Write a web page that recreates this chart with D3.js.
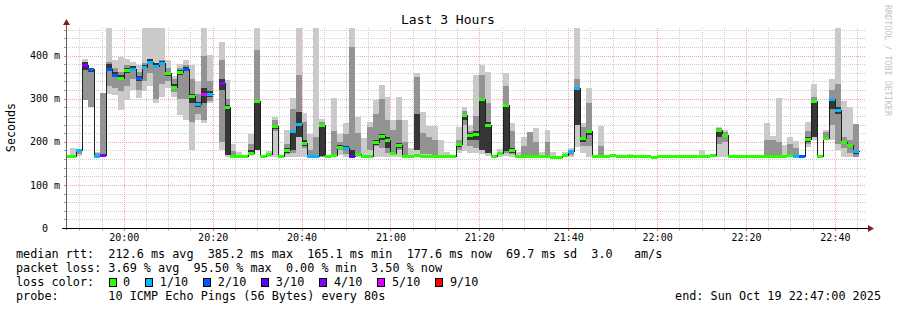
<!DOCTYPE html>
<html>
<head>
<meta charset="utf-8">
<script src="https://cdn.jsdelivr.net/npm/d3@7"></script>
<style>
  html, body { margin: 0; padding: 0; background: #fff; }
  svg { display: block; font-family: "DejaVu Sans Mono", monospace; }
  .pre { white-space: pre; }
</style>
</head>
<body>
<svg id="chart" width="897" height="310"></svg>
<script>
// one sample every 80 s, first bin starts 19:46:40 (values in ms)
const median = [
  167,167,181,379,370,167,169,370,355,349,
  366,369,347,374,386,376,382,359,328,362,
  370,306,287,311,311,null,337,281,167,167,
  167,175,294,167,172,236,167,181,225,241,
  198,167,167,238,167,169,189,186,167,172,
  167,167,199,213,204,175,192,167,167,169,
  167,167,167,167,167,167,195,262,216,219,
  300,239,167,175,285,181,167,167,167,167,
  167,167,165,165,169,179,324,208,225,167,
  167,168,170,168,167,167,167,167,167,165,
  167,167,167,167,167,167,167,167,167,170,
  227,216,167,167,167,167,167,167,167,167,
  167,167,170,167,168,206,295,167,209,300,
  274,199,192,178,null,null
];
const loss = [
  0,0,1,4,2,1,4,2,2,0,
  0,1,2,1,1,1,1,0,0,0,
  2,0,1,5,1,null,4,0,0,0,
  0,0,0,0,0,0,0,0,1,1,
  0,1,1,0,0,0,0,1,3,0,
  0,0,0,0,0,0,0,0,0,0,
  0,0,0,0,0,0,0,0,0,0,
  0,0,0,0,0,0,0,0,0,0,
  0,0,0,0,0,1,1,0,0,0,
  0,0,0,0,0,0,0,0,0,0,
  0,0,0,0,0,0,0,0,0,0,
  0,0,0,0,0,0,0,0,0,0,
  0,0,0,1,2,0,0,0,0,1,
  1,0,0,1,null,null
];
const rttMin = [
  165,165,167,297,281,165,165,311,308,273,
  297,320,302,318,330,290,305,324,305,262,
  250,181,250,243,289,null,181,165,165,165,
  165,167,181,165,165,165,165,165,165,165,
  165,165,165,165,165,165,170,165,165,165,
  165,165,165,165,165,165,165,165,165,165,
  165,165,165,165,165,165,175,178,175,175,
  172,167,165,165,168,165,165,165,165,165,
  165,165,163,163,165,165,188,175,165,165,
  165,165,165,165,165,165,165,165,165,163,
  165,165,165,165,165,165,165,165,165,165,
  165,165,165,165,165,165,165,165,165,165,
  165,165,165,165,165,189,205,165,204,204,
  181,165,165,165,null,null
];
const rttMax = [
  168,186,183,392,372,177,314,464,390,397,
  391,385,378,464,464,464,464,389,352,380,
  390,378,340,464,401,null,431,343,195,177,
  170,219,464,170,178,258,170,227,301,464,
  266,219,464,254,170,301,219,243,464,258,
  208,247,296,332,304,250,304,250,185,360,
  270,236,236,205,177,168,234,281,238,355,
  378,362,170,184,359,243,177,212,223,231,
  177,227,177,168,177,185,464,243,324,170,
  236,170,172,170,169,172,169,169,169,167,
  169,169,169,169,169,169,169,180,169,172,
  235,227,169,169,169,169,169,169,244,213,
  302,192,212,202,170,247,334,170,228,345,
  464,295,280,241,null,null
];
const midLo = [
  null,165,172,297,281,165,170,330,325,318,
  330,345,320,340,360,300,335,340,315,300,
  300,245,265,250,295,null,200,180,165,null,
  null,170,181,null,null,225,null,172,175,210,
  185,167,170,165,null,172,180,172,172,172,
  null,180,190,185,175,170,180,170,null,180,
  172,172,165,null,null,null,180,240,190,185,
  182,200,null,null,175,172,null,170,165,170,
  null,170,null,null,null,170,250,190,190,null,
  170,null,null,null,null,null,null,null,null,null,
  null,null,null,null,null,null,null,null,null,null,
  195,200,null,null,null,null,null,null,165,165,
  165,null,170,167,null,195,225,null,206,240,
  195,185,175,165,null,null
];
const midHi = [
  null,170,182,366,362,175,314,385,372,362,
  378,374,362,382,392,382,390,372,346,372,
  378,345,312,400,340,null,390,300,178,null,
  null,195,412,null,null,250,null,195,275,355,
  245,180,210,245,null,224,200,219,420,220,
  null,235,265,300,250,227,250,200,null,350,
  220,212,205,null,null,null,205,272,225,260,
  355,290,null,null,330,225,null,190,223,200,
  null,200,null,null,null,180,345,235,290,null,
  190,null,null,null,null,null,null,null,null,null,
  null,null,null,null,null,null,null,null,null,null,
  232,222,null,null,null,null,null,null,205,205,
  200,null,195,185,null,226,305,null,222,320,
  335,210,205,241,null,null
];
const coreLo = [
  null,null,null,366,362,165,165,365,350,343,
  360,365,342,370,382,372,378,352,322,355,
  364,290,280,290,305,null,320,170,null,null,
  null,170,181,null,null,230,null,175,180,210,
  190,null,null,167,null,null,184,180,165,null,
  null,null,192,205,185,null,185,null,null,180,
  null,null,null,null,null,null,188,250,205,205,
  182,175,null,null,178,175,null,null,null,null,
  null,null,null,null,null,null,240,200,215,null,
  null,null,null,null,null,null,null,null,null,null,
  null,null,null,null,null,null,null,null,null,null,
  212,null,null,null,null,null,null,null,null,null,
  null,null,null,null,null,200,210,null,null,275,
  265,195,188,172,null,null
];
const coreHi = [
  null,null,null,384,372,170,172,380,362,356,
  372,375,352,378,392,382,388,362,334,366,
  374,312,292,325,318,null,345,285,null,null,
  null,180,297,null,null,240,null,185,228,270,
  205,null,null,240,null,null,192,190,180,null,
  null,null,205,218,210,null,198,null,null,265,
  null,null,null,null,null,null,198,265,220,225,
  302,245,null,null,288,185,null,null,null,null,
  null,null,null,null,null,null,326,212,228,null,
  null,null,null,null,null,null,null,null,null,null,
  null,null,null,null,null,null,null,null,null,null,
  228,null,null,null,null,null,null,null,null,null,
  null,null,null,null,null,212,298,null,null,302,
  280,203,196,182,null,null
];

const yTicks = [0, 100, 200, 300, 400];
const yTickLabels = ["0  ", "100 m", "200 m", "300 m", "400 m"];
const lossLevels = [0, 1, 2, 3, 4, 5, 9];
const lossLabels = ["0", "1/10", "2/10", "3/10", "4/10", "5/10", "9/10"];
const lossColors = ["#26ff00", "#00b8ff", "#0059ff", "#5e00ff", "#7e00ff", "#dd00ff", "#ff0000"];

const statsLine = "median rtt:  212.6 ms avg  385.2 ms max  165.1 ms min  177.6 ms now  69.7 ms sd  3.0   am/s";
const lossLine = "packet loss: 3.69 % avg  95.50 % max  0.00 % min  3.50 % now";
const probeLine = "probe:       10 ICMP Echo Pings (56 Bytes) every 80s";
const endLine = "end: Sun Oct 19 22:47:00 2025";

const t0 = new Date(2025, 9, 19, 19, 47, 0);
const t1 = new Date(2025, 9, 19, 22, 47, 0);
const firstBin = new Date(2025, 9, 19, 19, 46, 40);
const stepMs = 80000;

const plotLeft = 66, plotRight = 866, plotTop = 28, plotBottom = 228;
const x = d3.scaleTime().domain([t0, t1]).range([plotLeft, plotRight]);
const y = d3.scaleLinear().domain([0, 464]).range([plotBottom, plotTop]);
const px = d => Math.round(x(d));

const svg = d3.select('#chart');

const bins = median.map((m, i) => ({
  i,
  t: new Date(+firstBin + i * stepMs),
  t2: new Date(+firstBin + (i + 1) * stepMs)
}));

// grid
const grid = svg.append('g');
const hMinor = d3.range(20, 464, 20).filter(v => v % 100 !== 0);
const hMajor = d3.range(100, 464, 100);
grid.selectAll('.hmin').data(hMinor).enter().append('line')
  .attr('x1', plotLeft).attr('x2', plotRight)
  .attr('y1', d => Math.round(y(d)) + 0.5).attr('y2', d => Math.round(y(d)) + 0.5)
  .attr('stroke', '#cdcdcd').attr('stroke-dasharray', '1,1');
const vMinor = x.ticks(d3.timeMinute.every(5)).filter(d => d.getMinutes() % 20 !== 0);
const vMajor = x.ticks(d3.timeMinute.every(20));
grid.selectAll('.vmin').data(vMinor).enter().append('line')
  .attr('x1', d => px(d) + 0.5).attr('x2', d => px(d) + 0.5)
  .attr('y1', plotTop).attr('y2', plotBottom)
  .attr('stroke', '#cdcdcd').attr('stroke-dasharray', '1,1');
grid.selectAll('.hmaj').data(hMajor).enter().append('line')
  .attr('x1', plotLeft).attr('x2', plotRight)
  .attr('y1', d => Math.round(y(d)) + 0.5).attr('y2', d => Math.round(y(d)) + 0.5)
  .attr('stroke', '#f2a8a8').attr('stroke-dasharray', '1,1');
grid.selectAll('.vmaj').data(vMajor).enter().append('line')
  .attr('x1', d => px(d) + 0.5).attr('x2', d => px(d) + 0.5)
  .attr('y1', plotTop).attr('y2', plotBottom)
  .attr('stroke', '#f2a8a8').attr('stroke-dasharray', '1,1');

// plot clip
svg.append('clipPath').attr('id', 'plot')
  .append('rect').attr('x', plotLeft + 1).attr('y', plotTop)
  .attr('width', plotRight - plotLeft).attr('height', plotBottom - plotTop);
const plot = svg.append('g').attr('clip-path', 'url(#plot)');

function band(lo, hi, color) {
  plot.append('g').attr('shape-rendering', 'crispEdges')
    .selectAll('rect').data(bins.filter(b => lo[b.i] != null && hi[b.i] != null)).enter().append('rect')
    .attr('x', b => px(b.t))
    .attr('width', b => px(b.t2) - px(b.t))
    .attr('y', b => Math.round(y(hi[b.i])))
    .attr('height', b => Math.max(1, Math.round(y(lo[b.i])) - Math.round(y(hi[b.i]))))
    .attr('fill', color);
}
band(rttMin, rttMax, '#cacaca');
band(midLo, midHi, '#939393');
band(coreLo, coreHi, '#363636');

// median step line
const medPts = [];
bins.forEach(b => {
  if (median[b.i] == null) { medPts.push(null); return; }
  const yy = Math.round(y(median[b.i])) + 0.5;
  medPts.push([px(b.t) + 0.5, yy], [px(b.t2) + 0.5, yy]);
});
plot.append('path')
  .attr('d', d3.line().defined(d => d != null).x(d => d[0]).y(d => d[1])(medPts))
  .attr('fill', 'none').attr('stroke', '#202020').attr('stroke-width', 1)
  .attr('shape-rendering', 'crispEdges');

// loss-coloured median marks
plot.append('g').attr('shape-rendering', 'crispEdges')
  .selectAll('line').data(bins.filter(b => median[b.i] != null)).enter().append('line')
  .attr('x1', b => px(b.t)).attr('x2', b => px(b.t2))
  .attr('y1', b => Math.round(y(median[b.i])) + 0.5)
  .attr('y2', b => Math.round(y(median[b.i])) + 0.5)
  .attr('stroke-width', 3)
  .attr('stroke', b => lossColors[lossLevels.indexOf(loss[b.i])]);

// axes
const yAxis = svg.append('g').attr('transform', `translate(${plotLeft},0)`)
  .call(d3.axisLeft(y).tickValues(yTicks).tickFormat((d, i) => yTickLabels[i]).tickSize(0).tickPadding(6));
yAxis.select('.domain').remove();
yAxis.selectAll('text').attr('class', 'pre').attr('font-size', 10)
  .attr('font-family', '"DejaVu Sans Mono", monospace').attr('fill', '#000');

const xAxis = svg.append('g').attr('transform', `translate(0,${plotBottom})`)
  .call(d3.axisBottom(x).ticks(d3.timeMinute.every(20)).tickFormat(d3.timeFormat('%H:%M')).tickSize(0).tickPadding(6));
xAxis.select('.domain').remove();
xAxis.selectAll('text').attr('font-size', 10)
  .attr('font-family', '"DejaVu Sans Mono", monospace').attr('fill', '#000');

// small tick marks
const ticks = svg.append('g').attr('shape-rendering', 'crispEdges');
ticks.selectAll('.yt').data(hMinor.concat(hMajor)).enter().append('line')
  .attr('x1', plotLeft - 2).attr('x2', plotLeft)
  .attr('y1', d => Math.round(y(d)) + 0.5).attr('y2', d => Math.round(y(d)) + 0.5)
  .attr('stroke', d => d % 100 === 0 ? '#e07070' : '#999');
ticks.selectAll('.xt').data(vMinor.concat(vMajor)).enter().append('line')
  .attr('x1', d => px(d) + 0.5).attr('x2', d => px(d) + 0.5)
  .attr('y1', plotBottom + 1).attr('y2', plotBottom + 3)
  .attr('stroke', d => d.getMinutes() % 20 === 0 ? '#e07070' : '#bbb');

svg.append('line').attr('x1', plotLeft + 0.5).attr('x2', plotLeft + 0.5).attr('y1', plotBottom + 2).attr('y2', 24)
  .attr('stroke', '#606060').attr('shape-rendering', 'crispEdges');
svg.append('line').attr('x1', 62).attr('x2', 869).attr('y1', plotBottom + 0.5).attr('y2', plotBottom + 0.5)
  .attr('stroke', '#000').attr('shape-rendering', 'crispEdges');
svg.append('path').attr('d', `M${plotLeft - 3},25 L${plotLeft + 4},25 L${plotLeft + 0.5},19 Z`).attr('fill', '#7f1f1f');
svg.append('path').attr('d', `M868,225 L868,232 L874,228.5 Z`).attr('fill', '#7f1f1f');

// titles
svg.append('text').attr('x', 448).attr('y', 24).attr('text-anchor', 'middle')
  .attr('font-size', 13).text('Last 3 Hours');
svg.append('text').attr('transform', 'translate(15,127.5) rotate(-90)').attr('text-anchor', 'middle')
  .attr('font-size', 11.7).text('Seconds');
svg.append('text').attr('transform', 'translate(885,5) rotate(90)')
  .attr('font-size', 8.4).attr('fill', '#c4c4c4').text('RRDTOOL / TOBI OETIKER');

// legend
const lg = svg.append('g').attr('font-size', 11.8).attr('fill', '#000');
lg.append('text').attr('class', 'pre').attr('x', 16).attr('y', 258).text(statsLine);
lg.append('text').attr('class', 'pre').attr('x', 16).attr('y', 272).text(lossLine);
lg.append('text').attr('class', 'pre').attr('x', 16).attr('y', 286).text('loss color:');
lg.append('text').attr('class', 'pre').attr('x', 16).attr('y', 300).text(probeLine);
lg.append('text').attr('x', 881).attr('y', 300).attr('text-anchor', 'end').text(endLine);

let cx = 108.5;
lossLabels.forEach((lab, i) => {
  lg.append('rect').attr('x', cx + 0.5).attr('y', 278.5).attr('width', 7).attr('height', 8)
    .attr('fill', lossColors[i]).attr('stroke', '#000').attr('shape-rendering', 'crispEdges');
  const t = lg.append('text').attr('x', cx + 14.6).attr('y', 286).text(lab);
  cx = cx + 14.6 + t.node().getComputedTextLength() + 15;
});
</script>
</body>
</html>
